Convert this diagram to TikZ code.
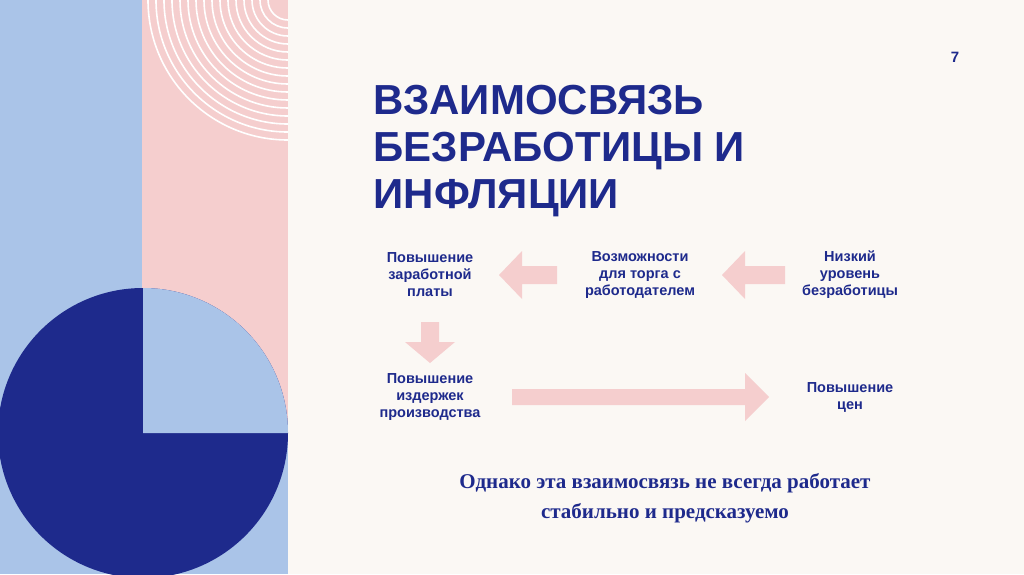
\documentclass[tikz,border=0pt]{standalone}
\usepackage{fontspec}
\setmainfont{Liberation Sans}
\newfontfamily\serifru{Liberation Serif}
\definecolor{cream}{HTML}{FBF8F4}
\definecolor{lblue}{HTML}{AAC4E8}
\definecolor{pinkc}{HTML}{F5CECE}
\definecolor{dblue}{HTML}{1E2A8C}
\begin{document}
\begin{tikzpicture}[x=1pt,y=-1pt,
  lbl/.style={font=\fontsize{14.5}{17}\selectfont\bfseries, text=dblue, align=center},
  blockarrow/.style={fill=pinkc, draw=none}]
\useasboundingbox (0,0) rectangle (1024,574);
\fill[cream] (0,0) rectangle (1024,574);
\fill[lblue] (0,0) rectangle (142,574);
\fill[pinkc] (142,0) rectangle (288,433);
\fill[lblue] (142,433) rectangle (288,574);
\begin{scope}
\clip (142,0) rectangle (288,433);
\foreach \r in {20,28,...,140} \draw[white, line width=1.6pt] (288-\r,0) arc[start angle=180, end angle=90, radius=\r];
\end{scope}
\fill[dblue] (143,433) circle (145);
\fill[lblue] (143,433) -- (143,288) arc[start angle=-90, end angle=0, radius=145] -- cycle;
\node[font=\fontsize{15}{18}\selectfont\bfseries, text=dblue] (num) at (955,57) {7};
\node[font=\fontsize{42}{47}\selectfont\bfseries, text=dblue, align=left, anchor=north west] (title) at (370,82) {ВЗАИМОСВЯЗЬ\\БЕЗРАБОТИЦЫ И\\ИНФЛЯЦИИ};
\node[lbl] (a) at (430,275) {Повышение\\заработной\\платы};
\node[lbl] (b) at (640,275) {Возможности\\для торга с\\работодателем};
\node[lbl] (c) at (850,275) {Низкий\\уровень\\безработицы};
\node[lbl] (d) at (430,397) {Повышение\\издержек\\производства};
\node[lbl] (e) at (850,397) {Повышение\\цен};
% left arrows
\fill[blockarrow] (557,266) -- (522,266) -- (522,251) -- (499,275) -- (522,299) -- (522,284) -- (557,284) -- cycle;
\fill[blockarrow] (785,266) -- (745,266) -- (745,251) -- (722,275) -- (745,299) -- (745,284) -- (785,284) -- cycle;
% down arrow
\fill[blockarrow] (421,322) -- (439,322) -- (439,342) -- (455,342) -- (430,363) -- (405,342) -- (421,342) -- cycle;
% long right arrow
\fill[blockarrow] (512,389) -- (745,389) -- (745,373) -- (769,397) -- (745,421) -- (745,405) -- (512,405) -- cycle;
\node[font=\serifru\fontsize{21}{30}\selectfont\bfseries, text=dblue, align=center] (note) at (665,498) {Однако эта взаимосвязь не всегда работает\\стабильно и предсказуемо};
\end{tikzpicture}
\end{document}
